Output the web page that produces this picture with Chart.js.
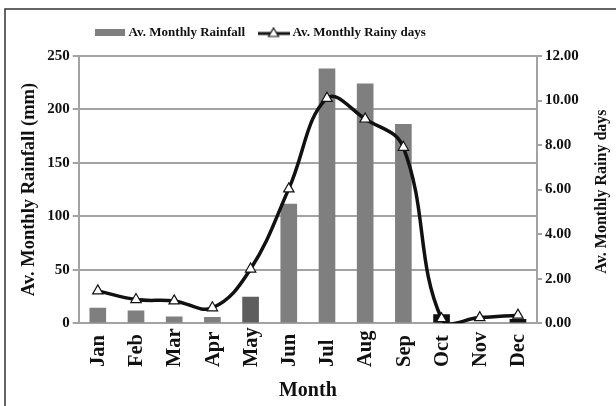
<!DOCTYPE html>
<html>
<head>
<meta charset="utf-8">
<script src="https://cdn.jsdelivr.net/npm/chart.js@4.4.1/dist/chart.umd.min.js"></script>
<style>
  html, body { margin: 0; padding: 0; background: #fff; }
  #wrap { position: relative; width: 616px; height: 406px; }
</style>
</head>
<body>
<div id="wrap"><canvas id="lluviaChart" width="616" height="406"></canvas></div>
<script>
const meses = ["Jan", "Feb", "Mar", "Apr", "May", "Jun", "Jul", "Aug", "Sep", "Oct", "Nov", "Dec"];
const lluviaMm = [14, 11.5, 6, 5.5, 24.5, 111.5, 238, 224, 186, 8, 0, 3.5];
const diasLluvia = [1.45, 1.06, 1.0, 0.69, 2.43, 6.03, 10.1, 9.17, 7.9, 0.2, 0.25, 0.36];
const ticksMm = [0, 50, 100, 150, 200, 250];
const ticksDias = [0, 2, 4, 6, 8, 10, 12];

const FUENTE = "'Liberation Serif', 'Times New Roman', serif";
const GRIS = "#7f7f7f";
const GRIS_LINEA = "#a3a3a3";

// colores de barra como en el original (May mas oscuro, Oct y Dec negros)
const coloresBarra = meses.map(m => {
  if (m === "May") return "#5e5e5e";
  if (m === "Oct" || m === "Dec") return "#111";
  return GRIS;
});

// muestras de la leyenda
const muestraBarra = document.createElement("canvas");
muestraBarra.width = 30; muestraBarra.height = 7;
let c = muestraBarra.getContext("2d");
c.fillStyle = GRIS; c.fillRect(0, 0, 30, 7);

const muestraLinea = document.createElement("canvas");
muestraLinea.width = 32; muestraLinea.height = 12;
c = muestraLinea.getContext("2d");
c.strokeStyle = "#111"; c.lineWidth = 3;
c.beginPath(); c.moveTo(0, 7); c.lineTo(32, 7); c.stroke();
c.fillStyle = "#fff"; c.lineWidth = 1.2;
c.beginPath(); c.moveTo(16, 1.5); c.lineTo(21, 10); c.lineTo(11, 10); c.closePath();
c.fill(); c.stroke();

// borde del cuadro, etiquetas de meses, titulo derecho y ajuste de la leyenda
const extras = {
  id: "extras",
  beforeLayout(chart) {
    const ley = chart.legend;
    if (ley && !ley._ajustada) {
      const fitOriginal = ley.fit;
      ley.fit = function () {
        fitOriginal.call(this);
        this.height += 7;
      };
      ley._ajustada = true;
    }
  },
  afterLayout(chart) {
    chart.legend.left -= 51;
    chart.legend.right -= 51;
  },
  afterDraw(chart) {
    const ctx = chart.ctx;
    const x = chart.scales.x;
    const y1 = chart.scales.y1;
    ctx.save();
    ctx.strokeStyle = "#333";
    ctx.lineWidth = 1.5;
    ctx.beginPath();
    ctx.moveTo(5, 406); ctx.lineTo(5, 9); ctx.lineTo(616, 9);
    ctx.stroke();

    ctx.fillStyle = "#111";
    ctx.font = "bold 20.5px " + FUENTE;
    const anchoMax = Math.max(...meses.map(m => ctx.measureText(m).width));
    const base = chart.chartArea.bottom + 4 + anchoMax;
    meses.forEach((m, i) => {
      ctx.save();
      ctx.translate(x.getPixelForTick(i), base);
      ctx.rotate(-Math.PI / 2);
      ctx.textAlign = "left";
      ctx.textBaseline = "middle";
      ctx.fillText(m, 0, 1);
      ctx.restore();
    });

    ctx.font = "bold 16px " + FUENTE;
    ctx.translate(y1.right - 5, (chart.chartArea.top + chart.chartArea.bottom) / 2 + 2);
    ctx.rotate(-Math.PI / 2);
    ctx.textAlign = "center";
    ctx.textBaseline = "middle";
    ctx.fillText("Av. Monthly Rainy days", 0, 0);
    ctx.restore();
  }
};

Chart.defaults.font.family = FUENTE;
Chart.defaults.font.weight = "bold";
Chart.defaults.color = "#111";

new Chart(document.getElementById("lluviaChart"), {
  data: {
    labels: meses,
    datasets: [
      {
        type: "line",
        label: "Av. Monthly Rainy days",
        data: diasLluvia,
        yAxisID: "y1",
        borderColor: "#111",
        borderWidth: 3.5,
        tension: 0.4,
        pointStyle: "triangle",
        pointRadius: 6,
        pointBackgroundColor: "#fff",
        pointBorderColor: "#111",
        pointBorderWidth: 1.2,
        order: 0
      },
      {
        type: "bar",
        label: "Av. Monthly Rainfall",
        data: lluviaMm,
        yAxisID: "y",
        backgroundColor: coloresBarra,
        barThickness: 16,
        order: 1
      }
    ]
  },
  options: {
    responsive: false,
    animation: false,
    layout: { padding: { top: 10, left: 18, right: 9, bottom: 0 } },
    elements: { line: { capBezierPoints: false } },
    plugins: {
      tooltip: { enabled: false },
      legend: {
        position: "top",
        reverse: true,
        labels: {
          usePointStyle: true,
          pointStyleWidth: 25,
          font: { size: 13, weight: "bold" },
          padding: 16,
          generateLabels(chart) {
            const items = Chart.defaults.plugins.legend.labels.generateLabels(chart);
            return items.map(it => {
              it.pointStyle = it.datasetIndex === 1 ? muestraBarra : muestraLinea;
              return it;
            });
          }
        }
      }
    },
    scales: {
      x: {
        grid: { display: false },
        border: { color: GRIS_LINEA, width: 2 },
        ticks: { color: "rgba(0,0,0,0)", font: { size: 20.5 }, minRotation: 90, maxRotation: 90, autoSkip: false, padding: 4 },
        title: { display: true, text: "Month", font: { size: 20, weight: "bold" }, padding: { top: 0, bottom: 3 } }
      },
      y: {
        position: "left",
        min: 0, max: 250,
        afterBuildTicks: s => { s.ticks = ticksMm.map(v => ({ value: v })); },
        grid: { color: GRIS_LINEA, lineWidth: 2, tickLength: 6 },
        border: { color: GRIS_LINEA, width: 2 },
        ticks: { font: { size: 15 }, padding: 3 },
        title: { display: true, text: "Av. Monthly Rainfall (mm)", font: { size: 18.5, weight: "bold" }, padding: { top: 0, bottom: 4 } }
      },
      y1: {
        position: "right",
        min: 0, max: 12,
        afterBuildTicks: s => { s.ticks = ticksDias.map(v => ({ value: v })); },
        grid: { drawOnChartArea: false, color: GRIS_LINEA, lineWidth: 2, tickLength: 5 },
        border: { color: GRIS_LINEA, width: 2 },
        ticks: { font: { size: 15 }, padding: 3, callback: v => Number(v).toFixed(2) },
        title: { display: true, text: "Av. Monthly Rainy days", color: "rgba(0,0,0,0)", font: { size: 16, weight: "bold" }, padding: { top: 6, bottom: 0 } }
      }
    }
  },
  plugins: [extras]
});
</script>
</body>
</html>
